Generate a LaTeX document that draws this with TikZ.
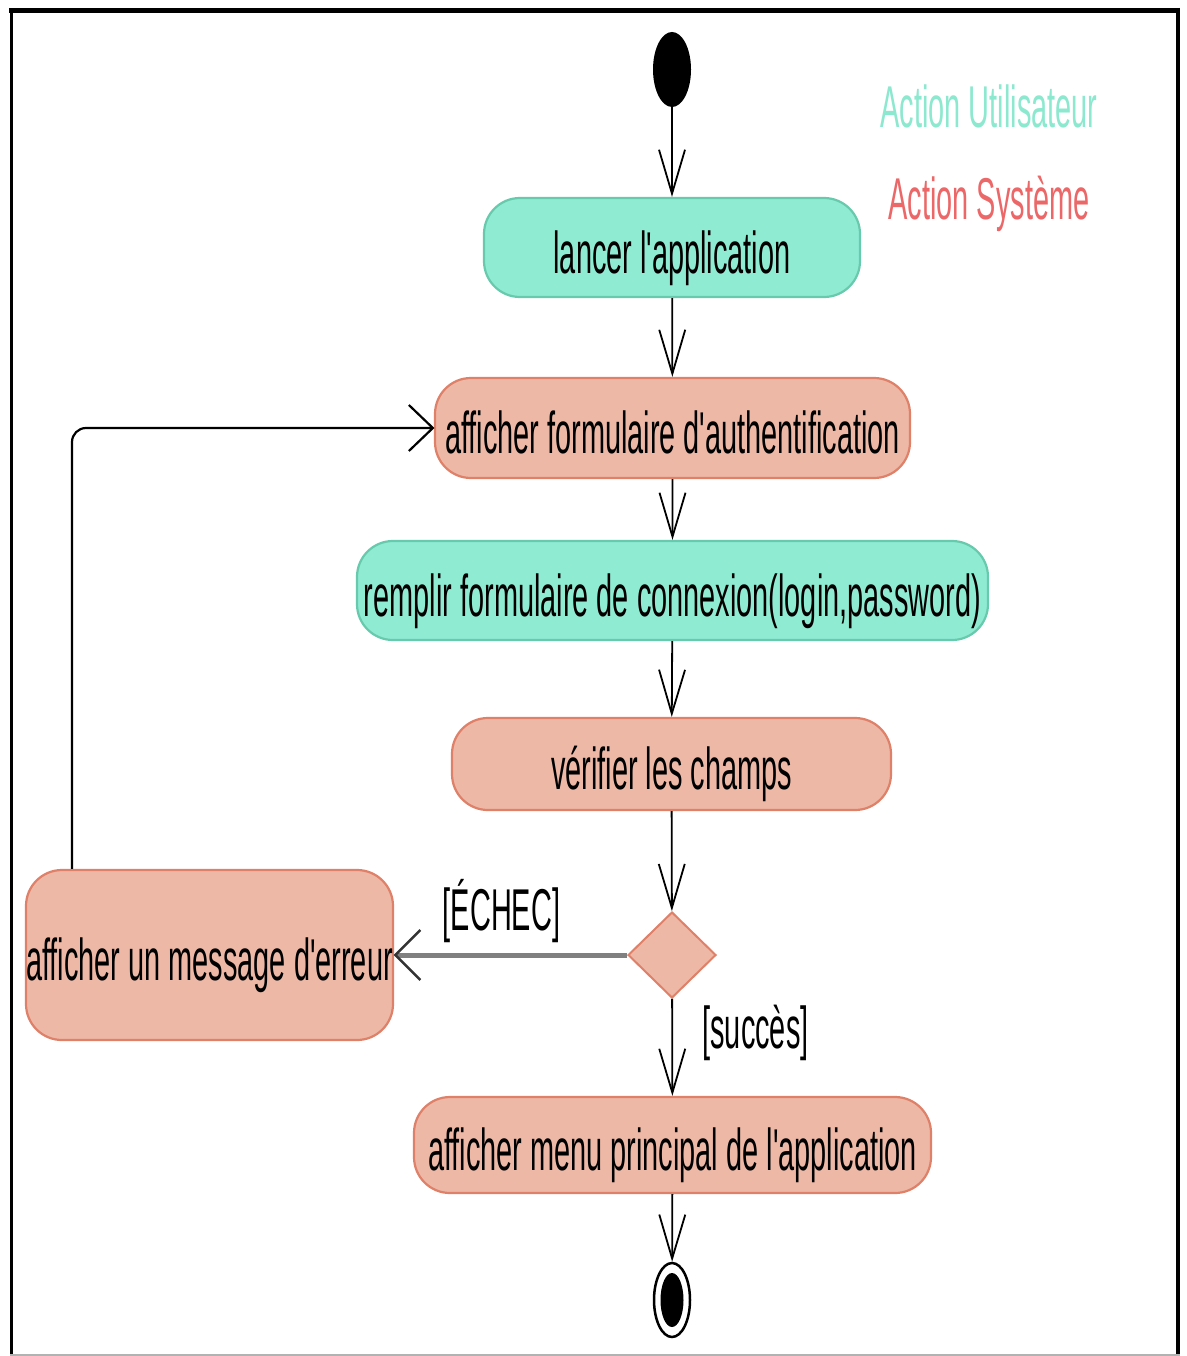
\documentclass[tikz,border=0pt]{standalone}
\usepackage{fontspec}
\setmainfont{Liberation Sans}[Ligatures=TeXOff]
\usetikzlibrary{arrows.meta,shapes.geometric}
\definecolor{tealfill}{RGB}{144,235,211}
\definecolor{tealdraw}{RGB}{104,202,172}
\definecolor{salfill}{RGB}{237,184,166}
\definecolor{saldraw}{RGB}{223,128,104}
\definecolor{legteal}{RGB}{140,232,206}
\definecolor{legred}{RGB}{236,104,104}
\begin{document}
\begin{tikzpicture}[x=1pt,y=-1pt,
  squeezed/.style={xscale=0.49, transform shape},
  bigfont/.style={font=\fontsize{59}{64}\selectfont},
  actbox/.style 2 args={squeezed, bigfont, rounded corners=36pt, line width=2.2pt,
     minimum width={#1/0.49}, minimum height=#2, inner sep=0pt,
     text height=51pt, text depth=0pt},
  useract/.style 2 args={actbox={#1}{#2}, draw=tealdraw, fill=tealfill},
  sysact/.style 2 args={actbox={#1}{#2}, draw=saldraw, fill=salfill},
  flow/.style={draw=black, line width=1.8pt, -{Straight Barb[length=44pt,width=26pt]}},
  lbl/.style={squeezed, bigfont, anchor=base, inner sep=0pt}]
\useasboundingbox (0,0) rectangle (1186,1356);
\fill[white] (0,0) rectangle (1186,1356);
% frame
\draw[line width=5pt] (9,10.5) -- (1180,10.5);
\draw[line width=2.5pt] (11.5,10) -- (11.5,1356);
\draw[line width=4pt] (1178,8) -- (1178,1356);
\draw[gray!60, line width=1.5pt] (10,1355) -- (1180,1355);
% legend
\node[lbl, text=legteal] (legu) at (989,128) {Action Utilisateur};
\node[lbl, text=legred] (legs) at (989,220) {Action Système};
% nodes
\node[ellipse, fill=black, minimum width=38, minimum height=75, inner sep=0pt] (start) at (672,69.5) {};
\node[useract={376}{99}] (lancer) at (672,247.5) {lancer l'application};
\node[sysact={475}{100}] (form) at (672.5,428) {afficher formulaire d'authentification};
\node[useract={631}{99}] (remplir) at (672.5,590.5) {remplir formulaire de connexion(login,password)};
\node[sysact={439}{92}] (verif) at (671.5,764) {vérifier les champs};
\node[diamond, aspect=1, minimum width=88, minimum height=86, inner sep=0pt, fill=salfill, draw=saldraw, line width=2pt] (dec) at (672,955) {};
\node[sysact={367}{170}] (err) at (209.5,955) {afficher un message d'erreur};
\node[sysact={517}{96}] (menu) at (672.5,1145) {afficher menu principal de l'application};
\node[ellipse, draw=black, line width=2.5pt, minimum width=36, minimum height=74, inner sep=0pt] (end) at (672,1300) {};
\node[ellipse, fill=black, minimum width=23, minimum height=54, inner sep=0pt] (endin) at (end.center) {};
% labels
\node[lbl] (lfail) at (501.5,930) {[ÉCHEC]};
\node[lbl] (lsucc) at (755.5,1048) {[succès]};
% connectors
\draw[flow] (start) -- (lancer);
\draw[flow] (lancer) -- (form);
\draw[flow] (form) -- (remplir);
\draw[flow] (remplir) -- (verif);
\draw[flow] (verif) -- (dec);
\draw[flow] (dec) -- (menu);
\draw[flow] (menu) -- (end);
\draw[draw=gray, line width=5pt, -{Straight Barb[length=25pt,width=50pt,line width=2.5pt,color=black!80]}] (dec.west) -- (err.east);
\coordinate (lx) at (72,0);
\draw[line width=2.2pt, rounded corners=14pt, -{Straight Barb[length=24pt,width=46pt]}] (lx |- err.north) |- (form.west);
\end{tikzpicture}
\end{document}
